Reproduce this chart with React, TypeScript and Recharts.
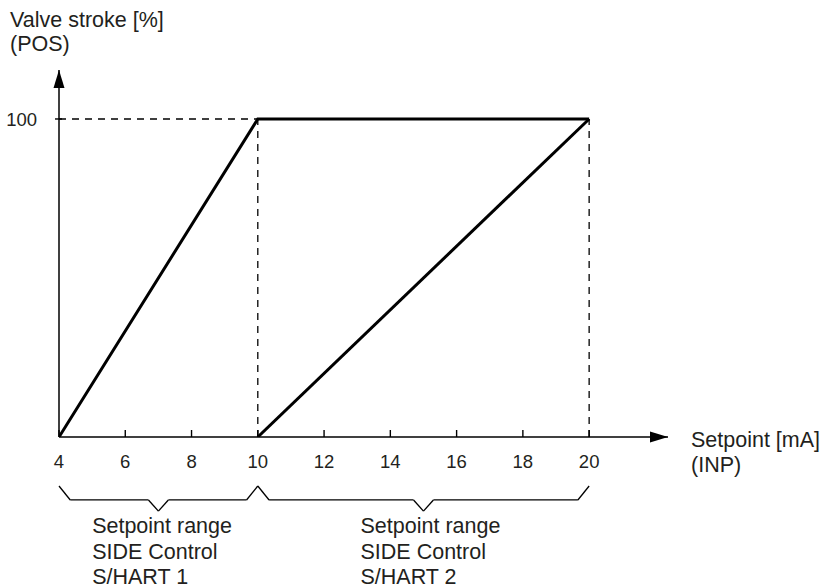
import React from 'react';
import { LineChart, Line, XAxis, YAxis, ReferenceLine, ReferenceDot } from 'recharts';

// ---- data ----
const xTicks = [4, 6, 8, 10, 12, 14, 16, 18, 20];
const yTicks = [100];
const series1 = [
  { x: 4, y: 0 },
  { x: 10, y: 100 },
  { x: 20, y: 100 },
];
const series2 = [
  { x: 10, y: 0 },
  { x: 20, y: 100 },
];
const rangeStarts = [4, 10];
const rangeEnds = [10, 20];
const rangeLabels = [
  ['Setpoint range', 'SIDE Control', 'S/HART 1'],
  ['Setpoint range', 'SIDE Control', 'S/HART 2'],
];
const yTitle = ['Valve stroke [%]', '(POS)'];
const xTitle = ['Setpoint [mA]', '(INP)'];

const X_MIN = 4;
const X_MAX = 22.38;
const Y_MIN = 0;
const Y_MAX = 115.4;

const FONT = '"Liberation Sans", Arial, Helvetica, sans-serif';
const TEXT = '#231f20';
const FS = 21.5;
const FS_TICK = 18.5;

// brace geometry (in data units)
const BR_TOP = -15.4;
const BR_MID = -19.8;
const BR_BOT = -23.3;
const BR_SLANT = 0.34;
const BR_V = 0.3;

function bracePoints(a: number, b: number) {
  const c = (a + b) / 2;
  return [
    { x: a, y: BR_TOP },
    { x: a + BR_SLANT, y: BR_MID },
    { x: c - BR_V, y: BR_MID },
    { x: c, y: BR_BOT },
    { x: c + BR_V, y: BR_MID },
    { x: b - BR_SLANT, y: BR_MID },
    { x: b, y: BR_TOP },
  ];
}

const XTick = (props: any) => {
  const { x, y, payload } = props;
  return (
    <g>
      <line x1={x} y1={y} x2={x} y2={y - 7} stroke="#000" strokeWidth={1.4} />
      <text x={x} y={y + 31} textAnchor="middle" fontFamily={FONT} fontSize={FS_TICK} fill={TEXT}>
        {payload.value}
      </text>
    </g>
  );
};

const YTick = (props: any) => {
  const { x, y, payload } = props;
  return (
    <g>
      <line x1={x - 4} y1={y} x2={x + 3} y2={y} stroke="#000" strokeWidth={1.4} />
      <text x={x - 22} y={y + 7} textAnchor="end" fontFamily={FONT} fontSize={FS_TICK} fill={TEXT}>
        {payload.value}
      </text>
    </g>
  );
};

const ArrowRight = (props: any) => {
  const { cx, cy } = props;
  return <path d={`M${cx},${cy} L${cx - 18},${cy - 5.5} L${cx - 18},${cy + 5.5} Z`} fill="#000" />;
};
const ArrowUp = (props: any) => {
  const { cx, cy } = props;
  return <path d={`M${cx},${cy} L${cx - 5.5},${cy + 18} L${cx + 5.5},${cy + 18} Z`} fill="#000" />;
};

const BraceLabel = (lines: string[]) => (props: any) => {
  const { cx, cy } = props;
  return (
    <text x={cx} y={cy} fontFamily={FONT} fontSize={FS} fill={TEXT}>
      {lines.map((l, i) => (
        <tspan key={i} x={cx} dy={i === 0 ? 0 : 25.5}>
          {l}
        </tspan>
      ))}
    </text>
  );
};

export default function App() {
  const braceSegs: { a: { x: number; y: number }; b: { x: number; y: number } }[] = [];
  rangeStarts.forEach((s, i) => {
    const pts = bracePoints(s, rangeEnds[i]);
    for (let k = 0; k < pts.length - 1; k++) braceSegs.push({ a: pts[k], b: pts[k + 1] });
  });
  const dash = '7 6';
  return (
    <div style={{ position: 'absolute', left: 0, top: 0, width: 820, height: 588, background: '#fff' }}>
      <LineChart
        width={820}
        height={588}
        margin={{ top: 70, right: 152, bottom: 121, left: 0 }}
      >
        <XAxis
          type="number"
          dataKey="x"
          domain={[X_MIN, X_MAX]}
          ticks={xTicks}
          allowDataOverflow
          height={30}
          tickSize={0}
          tickMargin={0}
          axisLine={{ stroke: '#000', strokeWidth: 1.5 }}
          tick={<XTick />}
        />
        <YAxis
          type="number"
          dataKey="y"
          domain={[Y_MIN, Y_MAX]}
          ticks={yTicks}
          allowDataOverflow
          width={59}
          tickSize={0}
          tickMargin={0}
          axisLine={{ stroke: '#000', strokeWidth: 1.5 }}
          tick={<YTick />}
        />
        <ReferenceLine
          segment={[{ x: 4, y: 100 }, { x: 10, y: 100 }]}
          stroke="#000"
          strokeWidth={1.3}
          strokeDasharray={dash}
          ifOverflow="visible"
        />
        <ReferenceLine
          segment={[{ x: 10, y: 0 }, { x: 10, y: 100 }]}
          stroke="#000"
          strokeWidth={1.3}
          strokeDasharray={dash}
          ifOverflow="visible"
        />
        <ReferenceLine
          segment={[{ x: 20, y: 0 }, { x: 20, y: 100 }]}
          stroke="#000"
          strokeWidth={1.3}
          strokeDasharray={dash}
          ifOverflow="visible"
        />
        {braceSegs.map((s, i) => (
          <ReferenceLine
            key={'b' + i}
            segment={[s.a, s.b]}
            stroke="#000"
            strokeWidth={1.3}
            ifOverflow="visible"
          />
        ))}
        <Line
          data={series1}
          dataKey="y"
          stroke="#000"
          strokeWidth={3}
          dot={false}
          isAnimationActive={false}
          strokeLinejoin="miter"
        />
        <Line
          data={series2}
          dataKey="y"
          stroke="#000"
          strokeWidth={3}
          dot={false}
          isAnimationActive={false}
        />
        <ReferenceDot x={X_MAX} y={0} r={1} ifOverflow="visible" shape={<ArrowRight />} />
        <ReferenceDot x={X_MIN} y={Y_MAX} r={1} ifOverflow="visible" shape={<ArrowUp />} />
        <ReferenceDot x={5.0} y={-30.3} r={1} ifOverflow="visible" shape={BraceLabel(rangeLabels[0])} />
        <ReferenceDot x={13.1} y={-30.3} r={1} ifOverflow="visible" shape={BraceLabel(rangeLabels[1])} />
      </LineChart>
      <svg
        width={820}
        height={588}
        style={{ position: 'absolute', left: 0, top: 0, pointerEvents: 'none' }}
      >
        <text x={10} y={27} fontFamily={FONT} fontSize={FS} fill={TEXT}>{yTitle[0]}</text>
        <text x={10} y={51} fontFamily={FONT} fontSize={FS} fill={TEXT}>{yTitle[1]}</text>
        <text x={691} y={447} fontFamily={FONT} fontSize={FS} fill={TEXT}>{xTitle[0]}</text>
        <text x={691} y={472} fontFamily={FONT} fontSize={FS} fill={TEXT}>{xTitle[1]}</text>
      </svg>
    </div>
  );
}
